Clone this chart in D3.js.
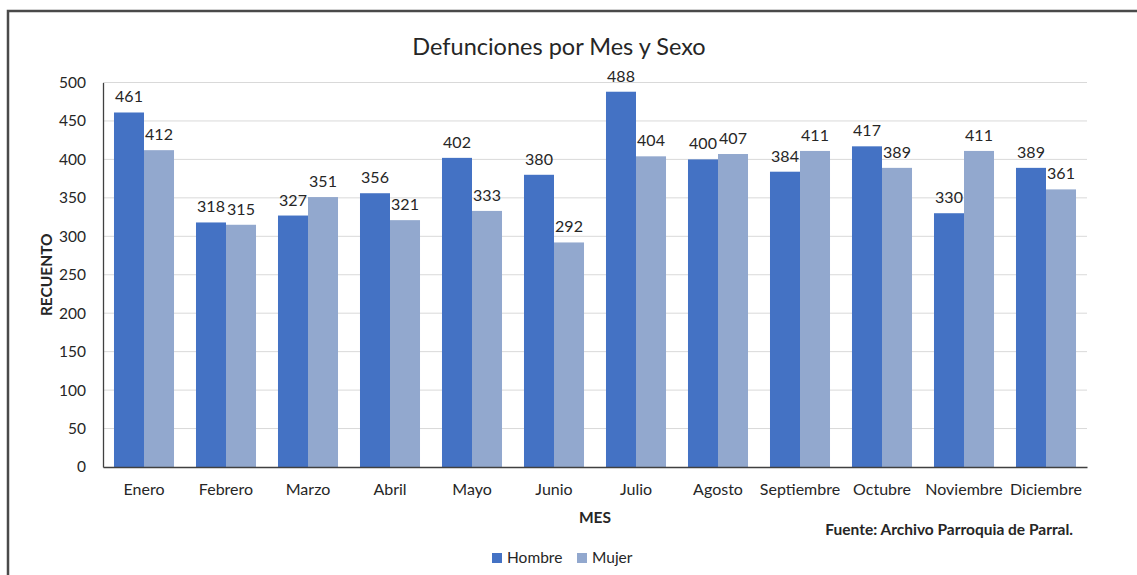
<!DOCTYPE html>
<html>
<head>
<meta charset="utf-8">
<script src="https://cdn.jsdelivr.net/npm/d3@7"></script>
<style>
  body { margin: 0; background: #fff; }
  text { font-family: Lato, "Open Sans", sans-serif; fill: #262626; }
</style>
</head>
<body>
<script>
// data
const months = ["Enero", "Febrero", "Marzo", "Abril", "Mayo", "Junio", "Julio",
  "Agosto", "Septiembre", "Octubre", "Noviembre", "Diciembre"];
const series = ["Hombre", "Mujer"];
const hombre = [461, 318, 327, 356, 402, 380, 488, 400, 384, 417, 330, 389];
const mujer = [412, 315, 351, 321, 333, 292, 404, 407, 411, 389, 411, 361];
const yTicks = [0, 50, 100, 150, 200, 250, 300, 350, 400, 450, 500];

const width = 1137
const height = 575
const margin = { top: 82.5, bottom: 108, left: 103, right: 50 }
const colors = ["#4472C4", "#92A8CE"]

const svg = d3.select("body").append("svg")
  .attr("width", width)
  .attr("height", height)

// outer frame (only left + top edges are visible in the window)
svg.append("rect")
  .attr("x", 8).attr("y", 11)
  .attr("width", width + 20).attr("height", height + 20)
  .attr("fill", "none")
  .attr("stroke", "#4a4a4a")
  .attr("stroke-width", 2.5)

const x0 = d3.scaleBand()
  .domain(months)
  .range([margin.left, width - margin.right])
  .paddingInner(0.268)
  .paddingOuter(0.134)

const x1 = d3.scaleBand()
  .domain(series)
  .range([0, x0.bandwidth()])

const y = d3.scaleLinear()
  .domain([0, 500])
  .range([height - margin.bottom, margin.top])

const color = d3.scaleOrdinal().domain(series).range(colors)

// gridlines
svg.append("g")
  .selectAll("line")
  .data(yTicks.slice(1))
  .join("line")
  .attr("x1", margin.left).attr("x2", width - margin.right)
  .attr("y1", d => y(d)).attr("y2", d => y(d))
  .attr("stroke", "#d9d9d9")

// bars
const rows = months.map((m, i) => ({ month: m, values: [
  { key: "Hombre", value: hombre[i] },
  { key: "Mujer", value: mujer[i] }
]}))

const groups = svg.append("g").selectAll("g")
  .data(rows)
  .join("g")
  .attr("transform", d => `translate(${x0(d.month)},0)`)

groups.selectAll("rect")
  .data(d => d.values)
  .join("rect")
  .attr("x", d => x1(d.key))
  .attr("width", x1.bandwidth())
  .attr("y", d => y(d.value))
  .attr("height", d => y(0) - y(d.value))
  .attr("fill", d => color(d.key))

groups.selectAll("text")
  .data(d => d.values)
  .join("text")
  .attr("x", d => x1(d.key) + x1.bandwidth() / 2)
  .attr("y", d => y(d.value) - 10)
  .attr("text-anchor", "middle")
  .style("font-size", "16px")
  .text(d => d.value)

// axes
const yAxis = svg.append("g")
  .attr("transform", `translate(${margin.left},0)`)
  .call(d3.axisLeft(y).tickValues(yTicks).tickSize(0).tickPadding(17))
yAxis.select(".domain").attr("stroke", "#404040").attr("stroke-width", 1.3)
yAxis.selectAll("text").style("font-size", "15.5px").attr("fill", "#262626")

const xAxis = svg.append("g")
  .attr("transform", `translate(0,${y(0)})`)
  .call(d3.axisBottom(x0).tickSize(0).tickPadding(17))
xAxis.select(".domain").attr("stroke", "#404040").attr("stroke-width", 1.3)
xAxis.selectAll("text").style("font-size", "16px").attr("fill", "#262626")

// titles
svg.append("text")
  .attr("x", 559).attr("y", 55)
  .attr("text-anchor", "middle")
  .style("font-size", "23.5px")
  .attr("fill", "#000")
  .text("Defunciones por Mes y Sexo")

svg.append("text")
  .attr("transform", `translate(52,${(y(0) + y(500)) / 2}) rotate(-90)`)
  .attr("text-anchor", "middle")
  .style("font-size", "15.5px")
  .style("font-weight", "bold")
  .attr("fill", "#000")
  .text("RECUENTO")

svg.append("text")
  .attr("x", (margin.left + width - margin.right) / 2).attr("y", 523)
  .attr("text-anchor", "middle")
  .style("font-size", "15.5px")
  .style("font-weight", "bold")
  .attr("fill", "#000")
  .text("MES")

svg.append("text")
  .attr("x", 1073).attr("y", 535)
  .attr("text-anchor", "end")
  .style("font-size", "15.5px")
  .style("font-weight", "bold")
  .attr("fill", "#595959")
  .text("Fuente: Archivo Parroquia de Parral.")

// legend
const legend = svg.append("g")
const legendX = [492, 577]
legend.selectAll("rect")
  .data(series)
  .join("rect")
  .attr("x", (d, i) => legendX[i]).attr("y", 553)
  .attr("width", 10).attr("height", 10)
  .attr("fill", d => color(d))
legend.selectAll("text")
  .data(series)
  .join("text")
  .attr("x", (d, i) => legendX[i] + 15).attr("y", 563)
  .style("font-size", "15.5px")
  .text(d => d)
</script>
</body>
</html>
